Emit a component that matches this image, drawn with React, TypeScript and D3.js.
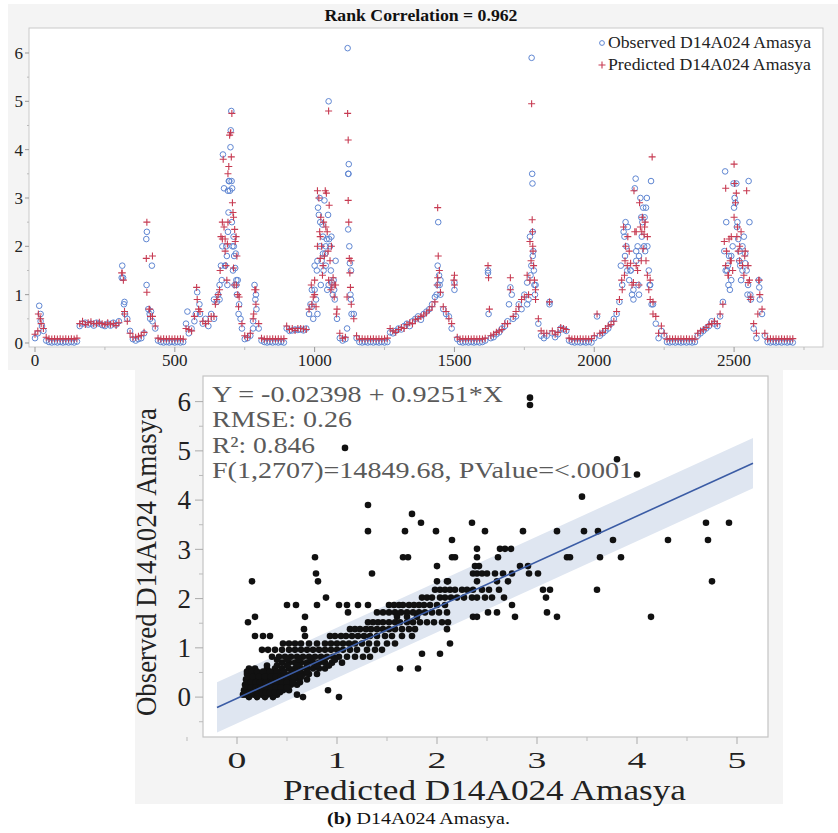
import React from "react";
import * as d3 from "d3";

// ---------------- Top chart data (index step = 10) ----------------
const STEP = 10;
const observed = [
  0.10, 0.20, 0.60, 0.25, 0.05, 0.02, 0.01, 0.02, 0.01, 0.02,
  0.01, 0.02, 0.01, 0.02, 0.01, 0.03, 0.35, 0.40, 0.42, 0.38,
  0.40, 0.36, 0.42, 0.40, 0.37, 0.35, 0.40, 0.36, 0.42, 0.38,
  0.45, 1.35, 0.85, 0.50, 0.25, 0.08, 0.05, 0.08, 0.10, 0.20,
  2.30, 0.60, 0.45, 0.30, 0.05, 0.02, 0.01, 0.02, 0.01, 0.02,
  0.01, 0.02, 0.01, 0.02, 0.40, 0.20, 0.30, 0.45, 1.05, 0.60,
  0.40, 0.50, 0.35, 0.60, 0.50, 0.85, 1.20, 2.00, 1.60, 3.15,
  4.40, 2.20, 1.30, 0.80, 0.30, 0.08, 0.10, 0.15, 0.45, 1.00,
  0.30, 0.05, 0.02, 0.01, 0.02, 0.01, 0.02, 0.01, 0.02, 0.01,
  0.30, 0.25, 0.26, 0.28, 0.27, 0.28, 0.26, 0.30, 0.60, 0.75,
  1.10, 1.70, 2.50, 1.85, 2.00, 1.20, 2.20, 1.10, 0.50, 0.10,
  0.05, 0.08, 3.50, 1.50, 0.60, 0.10, 0.02, 0.01, 0.02, 0.01,
  0.02, 0.01, 0.02, 0.01, 0.02, 0.01, 0.02, 0.22, 0.20, 0.25,
  0.30, 0.28, 0.35, 0.40, 0.35, 0.45, 0.50, 0.55, 0.48, 0.60,
  0.65, 0.70, 0.80, 0.95, 1.20, 1.00, 0.70, 0.60, 0.55, 0.30,
  1.10, 0.08, 0.02, 0.01, 0.02, 0.01, 0.02, 0.01, 0.02, 0.01,
  0.02, 0.05, 1.50, 0.10, 0.12, 0.18, 0.22, 0.30, 0.35, 0.45,
  1.15, 0.50, 0.55, 0.80, 0.70, 1.00, 1.25, 2.20, 1.80, 1.20,
  0.40, 0.15, 0.10, 0.15, 0.85, 0.20, 0.12, 0.18, 0.30, 0.28,
  0.25, 0.05, 0.02, 0.01, 0.02, 0.01, 0.02, 0.01, 0.02, 0.01,
  0.10, 0.55, 0.15, 0.20, 0.25, 0.30, 0.40, 0.50, 0.60, 0.85,
  1.20, 1.80, 2.40, 1.50, 1.10, 1.70, 1.00, 2.20, 2.60, 2.00,
  1.20, 0.80, 0.40, 0.10, 0.25, 0.15, 0.02, 0.01, 0.02, 0.01,
  0.02, 0.01, 0.02, 0.01, 0.02, 0.01, 0.02, 0.15, 0.20, 0.25,
  0.30, 0.35, 0.45, 0.40, 0.35, 0.55, 0.85, 1.50, 1.20, 1.80,
  2.80, 2.40, 1.90, 1.50, 1.85, 1.20, 0.90, 0.30, 0.10, 1.15,
  0.60, 0.15, 0.02, 0.01, 0.02, 0.01, 0.02, 0.01, 0.02, 0.01,
  0.02, 0.01,
];
const predicted = [
  0.18, 0.25, 0.50, 0.30, 0.12, 0.09, 0.08, 0.09, 0.08, 0.09,
  0.08, 0.09, 0.08, 0.09, 0.08, 0.10, 0.40, 0.45, 0.38, 0.42,
  0.44, 0.40, 0.40, 0.43, 0.40, 0.38, 0.42, 0.39, 0.40, 0.36,
  0.42, 1.45, 0.65, 0.45, 0.20, 0.12, 0.12, 0.14, 0.16, 0.22,
  2.50, 0.70, 0.55, 0.35, 0.10, 0.08, 0.09, 0.08, 0.09, 0.08,
  0.09, 0.08, 0.09, 0.08, 0.30, 0.28, 0.25, 0.55, 0.90, 0.65,
  0.45, 0.40, 0.45, 0.55, 0.55, 0.90, 1.10, 2.15, 1.90, 2.50,
  4.35, 2.60, 1.20, 0.95, 0.40, 0.15, 0.12, 0.20, 0.50, 1.10,
  0.40, 0.10, 0.08, 0.09, 0.08, 0.09, 0.08, 0.09, 0.08, 0.09,
  0.35, 0.28, 0.30, 0.26, 0.30, 0.30, 0.29, 0.28, 0.70, 0.80,
  1.00, 2.00, 2.20, 1.60, 2.40, 1.30, 2.00, 1.20, 0.70, 0.20,
  0.10, 0.12, 2.95, 1.70, 0.50, 0.15, 0.08, 0.09, 0.08, 0.09,
  0.08, 0.09, 0.08, 0.09, 0.08, 0.09, 0.10, 0.30, 0.25, 0.22,
  0.28, 0.32, 0.30, 0.38, 0.42, 0.40, 0.48, 0.50, 0.55, 0.58,
  0.62, 0.68, 0.75, 0.85, 1.35, 1.05, 0.75, 0.65, 0.50, 0.40,
  1.40, 0.12, 0.08, 0.09, 0.08, 0.09, 0.08, 0.09, 0.08, 0.09,
  0.08, 0.10, 1.60, 0.15, 0.18, 0.22, 0.25, 0.28, 0.40, 0.40,
  1.35, 0.55, 0.65, 0.75, 0.90, 0.95, 1.40, 2.10, 2.00, 1.10,
  0.50, 0.25, 0.20, 0.20, 0.85, 0.25, 0.18, 0.22, 0.32, 0.30,
  0.28, 0.10, 0.08, 0.09, 0.08, 0.09, 0.08, 0.09, 0.08, 0.09,
  0.15, 0.60, 0.20, 0.22, 0.30, 0.35, 0.38, 0.45, 0.65, 0.90,
  1.10, 1.70, 2.20, 1.65, 1.25, 1.60, 1.20, 2.30, 2.40, 2.20,
  1.30, 0.85, 0.55, 0.20, 0.35, 0.20, 0.08, 0.09, 0.08, 0.09,
  0.08, 0.09, 0.08, 0.09, 0.08, 0.09, 0.08, 0.20, 0.25, 0.28,
  0.32, 0.38, 0.40, 0.45, 0.40, 0.60, 0.80, 1.60, 1.40, 1.70,
  2.60, 2.20, 1.70, 1.60, 1.90, 1.25, 0.95, 0.40, 0.20, 1.30,
  0.70, 0.20, 0.08, 0.09, 0.08, 0.09, 0.08, 0.09, 0.08, 0.09,
  0.08, 0.09,
];
// additional readings inside the peaks: [index, value]
const observedExtra: [number, number][] = [
  [15, 0.77], [20, 0.45], [25, 0.35],
  [312, 1.6], [315, 1.35], [318, 0.8], [322, 0.6],
  [398, 2.15], [399, 1.2], [418, 1.6], [405, 0.7], [412, 0.5], [415, 0.65],
  [545, 0.65], [588, 0.8], [575, 0.6], [640, 0.9], [655, 1.0],
  [672, 3.9], [676, 3.2], [680, 1.6], [684, 2.0], [686, 1.8], [690, 2.3], [693, 3.35], [695, 3.35],
  [697, 3.15], [699, 4.05], [702, 4.8], [704, 2.5], [706, 2.0], [708, 1.5], [712, 1.8], [714, 1.2],
  [716, 1.55], [718, 1.85], [722, 1.0], [725, 1.3], [665, 1.6], [668, 1.3], [660, 0.9], [688, 1.2],
  [692, 2.7], [703, 3.35], [705, 3.2], [711, 2.0], [720, 1.2], [728, 0.6], [735, 0.5],
  [785, 1.2], [788, 0.9], [792, 0.7], [780, 0.3],
  [985, 0.8], [990, 1.1], [995, 0.5], [1005, 0.9], [1008, 1.5], [1012, 2.8], [1015, 2.65], [1018, 3.0],
  [1020, 2.0], [1022, 1.2], [1025, 1.7], [1028, 2.45], [1030, 2.2], [1032, 1.5], [1035, 2.95], [1038, 1.85],
  [1040, 1.6], [1043, 2.15], [1045, 1.1], [1048, 2.65], [1050, 5.0], [1052, 2.15], [1055, 2.0], [1058, 1.5],
  [1062, 1.25], [1065, 1.0], [1068, 1.3], [1072, 0.9], [1075, 1.7], [1000, 1.6], [1010, 0.6],
  [1118, 6.1], [1120, 2.35], [1122, 3.7], [1124, 2.0], [1126, 1.65], [1128, 1.0], [1130, 0.9], [1132, 0.6],
  [1116, 0.3], [1121, 3.5],
  [1440, 1.6], [1442, 2.5], [1445, 1.4], [1447, 1.2], [1436, 1.0], [1450, 1.3],
  [1500, 1.25], [1620, 1.45], [1622, 0.6], [1695, 0.8], [1705, 1.0],
  [1776, 5.9], [1778, 3.5], [1779, 3.3], [1780, 2.3], [1775, 1.6], [1782, 1.9], [1784, 1.5], [1786, 1.2],
  [1788, 1.0], [1772, 1.4], [1765, 0.9], [1760, 0.8], [1840, 0.8],
  [2095, 1.6], [2105, 2.3], [2108, 2.2], [2112, 2.5], [2115, 2.0], [2118, 1.5], [2125, 1.3], [2135, 1.0],
  [2145, 3.2], [2148, 3.4], [2150, 1.9], [2155, 2.0], [2158, 1.2], [2165, 3.0], [2168, 2.6], [2172, 2.5],
  [2175, 2.8], [2178, 2.0], [2182, 1.9], [2185, 2.8], [2188, 3.0], [2195, 1.5], [2198, 1.2], [2203, 3.35],
  [2205, 0.8], [2160, 1.8], [2140, 0.9], [2130, 1.5],
  [2468, 3.55], [2465, 1.9], [2472, 2.5], [2475, 1.5], [2478, 1.6], [2482, 1.8], [2485, 1.1], [2490, 1.3],
  [2495, 2.0], [2498, 3.3], [2502, 3.0], [2505, 2.9], [2508, 3.3], [2512, 2.5], [2515, 2.15], [2518, 1.7],
  [2522, 1.6], [2525, 1.3], [2530, 2.0], [2535, 2.2], [2540, 1.65], [2545, 1.5], [2552, 3.35], [2555, 2.5],
  [2548, 1.0], [2558, 1.0], [2588, 1.3], [2592, 0.9],
];
const predictedExtra: [number, number][] = [
  [12, 0.6], [18, 0.5], [22, 0.4],
  [312, 1.45], [316, 1.3], [320, 0.6],
  [398, 1.75], [400, 1.05], [420, 1.8], [408, 0.7], [413, 0.55],
  [578, 1.15], [585, 0.7], [645, 0.8], [655, 1.0],
  [670, 2.5], [673, 3.8], [676, 2.4], [680, 2.15], [683, 1.6], [686, 1.3], [690, 3.5], [693, 3.65],
  [696, 4.3], [699, 4.35], [702, 3.85], [704, 4.75], [706, 2.9], [708, 2.7], [710, 1.55], [712, 1.2],
  [714, 2.35], [716, 2.1], [719, 2.2], [722, 1.8], [725, 1.0], [728, 0.75], [665, 2.2], [662, 1.5], [688, 2.05],
  [786, 1.1], [790, 0.8], [782, 0.6],
  [988, 1.2], [995, 0.95], [1005, 0.75], [1010, 3.15], [1015, 3.0], [1018, 2.3], [1022, 2.6], [1025, 2.0],
  [1028, 1.4], [1032, 2.5], [1035, 1.8], [1038, 3.15], [1042, 3.1], [1045, 2.3], [1048, 1.9], [1050, 4.8],
  [1052, 2.85], [1055, 1.7], [1058, 1.1], [1062, 1.2], [1066, 1.35], [1070, 0.95], [1075, 1.2], [1078, 0.6],
  [1000, 1.3], [1020, 1.75],
  [1118, 4.75], [1120, 4.2], [1122, 2.5], [1124, 1.75], [1126, 1.45], [1128, 1.15], [1131, 0.8], [1116, 0.95],
  [1440, 2.8], [1442, 1.8], [1446, 1.5], [1438, 1.2],
  [1500, 1.2], [1498, 1.3], [1622, 1.35], [1625, 0.7], [1700, 1.1],
  [1776, 4.95], [1778, 2.55], [1779, 2.3], [1781, 1.9], [1774, 1.7], [1783, 1.6], [1786, 1.3], [1770, 1.3],
  [1790, 0.9], [1765, 1.0], [1840, 0.85],
  [2098, 1.3], [2105, 2.4], [2108, 1.4], [2112, 2.0], [2118, 1.6], [2125, 1.9], [2135, 1.2], [2142, 3.15],
  [2145, 2.3], [2150, 2.3], [2155, 1.5], [2162, 2.9], [2165, 2.4], [2168, 1.7], [2172, 2.6], [2175, 1.95],
  [2178, 2.25], [2182, 2.5], [2185, 1.7], [2190, 1.4], [2195, 1.1], [2207, 3.85], [2200, 0.9], [2210, 0.6],
  [2470, 3.2], [2465, 2.1], [2473, 1.9], [2478, 1.4], [2482, 2.15], [2486, 1.7], [2490, 2.2], [2495, 1.5],
  [2500, 3.7], [2502, 3.3], [2505, 2.9], [2508, 3.1], [2512, 2.4], [2515, 1.9], [2520, 2.0], [2525, 2.3],
  [2530, 1.6], [2538, 1.8], [2545, 3.15], [2550, 1.6], [2555, 1.3], [2558, 0.9], [2535, 1.4],
  [2588, 1.3], [2592, 1.0], [2585, 0.6],
];
const topXTicks = [0, 500, 1000, 1500, 2000, 2500];
const topYTicks = [0, 1, 2, 3, 4, 5, 6];
const topTitle = "Rank Correlation = 0.962";
const legendLabels = ["Observed D14A024 Amasya", "Predicted D14A024 Amasya"];

// ---------------- Scatter data: observed level -> predicted values ----------------
const scatterObserved = [
  6.08, 5.93, 5.06, 4.83, 4.52, 4.07, 3.9, 3.72, 3.54, 3.37, 3.19, 3.01, 2.84, 2.66, 2.51, 2.35, 2.18, 2.02,
  1.87, 1.72, 1.63, 1.52, 1.38, 1.24, 1.09, 0.96, 0.88, 0.82, 0.7, 0.58, 0.47, 0.36, 0.25, 0.14, 0.05, 0.0,
  0.76, 0.64, 0.52, 0.41, 0.3, 0.2, 0.1,
];
const scatterPredicted = [
  [2.93], [2.93], [1.08], [3.8], [4.0], [3.45], [1.31], [1.75],
  [1.84, 2.35, 4.69, 4.92],
  [1.31, 1.68, 1.99, 2.48, 2.86, 3.2, 3.47, 3.61],
  [2.15, 3.76, 4.31, 4.71],
  [2.4, 2.63, 2.68, 2.74],
  [0.78, 1.66, 1.71, 2.15, 2.18, 2.4, 2.61, 3.3, 3.33, 3.63, 3.84],
  [2.0, 2.38, 2.42, 2.83, 2.91],
  [0.79, 1.35, 2.36, 2.4, 2.45, 2.5, 2.58, 2.66, 2.75, 2.92, 3.01],
  [0.15, 0.81, 2.0, 2.1, 2.11, 2.4, 2.6, 2.71, 4.75],
  [1.98, 2.03, 2.08, 2.13, 2.18, 2.25, 2.3, 2.36, 2.45, 2.52, 2.62, 3.06, 3.13, 3.6],
  [0.89, 1.85, 1.9, 1.95, 2.03, 2.08, 2.14, 2.2, 2.27, 2.35, 2.4, 2.48, 2.55, 2.67, 3.09],
  [0.5, 0.59, 0.8, 1.02, 1.1, 1.21, 1.31, 1.52, 1.57, 1.62, 1.66, 1.72, 1.77, 1.82, 1.87, 1.93, 2.0, 2.08, 2.75],
  [1.11, 1.4, 1.46, 1.52, 1.58, 1.64, 1.7, 1.76, 1.82, 1.88, 1.95, 2.02, 2.1, 2.51, 2.6, 3.1],
  [0.18, 0.68, 1.6, 1.7, 1.8, 2.36, 2.4, 2.78, 3.2, 4.14],
  [0.11, 1.31, 1.36, 1.41, 1.46, 1.52, 1.58, 1.63, 1.7, 1.76, 1.83, 1.9, 1.97, 2.05, 2.11],
  [0.67, 1.13, 1.18, 1.23, 1.29, 1.34, 1.4, 1.46, 1.52, 1.58, 1.65, 1.72, 1.78, 2.1],
  [0.18, 0.26, 0.33, 0.68, 0.93, 0.98, 1.04, 1.09, 1.15, 1.21, 1.27, 1.33, 1.4, 1.48, 1.55, 1.65, 1.75],
  [0.46, 0.52, 0.58, 0.64, 0.72, 0.8, 0.88, 0.94, 1.0, 1.06, 1.12, 1.18, 1.25, 1.32, 1.4, 1.5, 1.58, 2.13],
  [0.25, 0.31, 0.38, 0.45, 0.52, 0.58, 0.64, 0.7, 0.76, 0.82, 0.88, 0.94, 1.0, 1.06, 1.13, 1.2, 1.3, 1.38, 1.45],
  [1.85, 2.03],
  [0.35, 0.42, 0.48, 0.54, 0.6, 0.66, 0.72, 0.78, 0.84, 0.9, 0.96, 1.02, 1.1, 1.18, 1.26, 1.33],
  [0.45, 0.52, 0.58, 0.64, 0.7, 0.76, 0.82, 0.88, 0.95, 1.05],
  [0.12, 0.18, 0.3, 0.38, 0.45, 0.52, 0.58, 0.64, 0.7, 0.76, 0.82, 0.88, 1.63, 1.81],
  [0.1, 0.14, 0.18, 0.24, 0.3, 0.36, 0.42, 0.48, 0.54, 0.6, 0.66, 0.72, 0.8],
  [0.09, 0.13, 0.17, 0.21, 0.26, 0.31, 0.36, 0.41, 0.46, 0.51, 0.56, 0.62, 0.7],
  [0.08, 0.12, 0.16, 0.2, 0.24, 0.28, 0.33, 0.38, 0.43, 0.48, 0.54, 0.6],
  [0.07, 0.1, 0.14, 0.18, 0.22, 0.26, 0.3, 0.35, 0.4, 0.46, 0.52, 0.91],
  [0.06, 0.09, 0.13, 0.17, 0.21, 0.25, 0.3, 0.35, 0.4, 0.6],
  [0.12, 0.2, 0.28, 0.36, 0.66, 1.02],
  [0.4, 0.5, 0.62, 0.74, 0.86, 0.98],
  [0.3, 0.4, 0.5, 0.6, 0.7, 0.8, 0.92],
  [0.1, 0.15, 0.2, 0.26, 0.33, 0.4, 0.47, 0.55, 0.62, 0.7],
  [0.11, 0.16, 0.22, 0.28, 0.34, 0.39, 0.44, 0.5, 0.57, 0.64],
  [0.1, 0.14, 0.19, 0.23, 0.29, 0.35, 0.4, 0.45, 0.5, 0.56, 0.63],
  [0.09, 0.14, 0.19, 0.24, 0.29, 0.34, 0.39, 0.44, 0.5],
  [0.08, 0.12, 0.16, 0.2, 0.25, 0.29, 0.33, 0.38, 0.43],
];
const fitIntercept = -0.02398;
const fitSlope = 0.9251;
const fitBandHalfWidth = 0.51;
const fitRange = [-0.2, 5.16];
const statLines = [
  "Y = -0.02398 + 0.9251*X",
  "RMSE: 0.26",
  "R\u00b2: 0.846",
  "F(1,2707)=14849.68, PValue=<.0001",
];
const statLengths = [291, 140, 103, 421];
const scatterXTicks = [0, 1, 2, 3, 4, 5];
const scatterYTicks = [0, 1, 2, 3, 4, 5, 6];
const scatterXTitle = "Predicted D14A024 Amasya";
const scatterYTitle = "Observed D14A024 Amasya";

const SERIF = "'Liberation Serif', 'Times New Roman', Times, serif";
const BLUE = "#5f86d2";
const RED = "#c73b52";

export default function App() {
  // ---- top chart scales ----
  const tx = d3.scaleLinear().domain([-21.5, 2818]).range([29, 823]);
  const ty = d3.scaleLinear().domain([-0.083, 6.517]).range([347, 28]);

  const obsPts: [number, number][] = observed.map((v, i) => [i * STEP, v] as [number, number]).concat(observedExtra);
  const predPts: [number, number][] = predicted.map((v, i) => [i * STEP, v] as [number, number]).concat(predictedExtra);

  const plusPath = predPts
    .map(([i, v]) => {
      const x = tx(i);
      const y = ty(v);
      return `M${x - 3.5},${y}H${x + 3.5}M${x},${y - 3.5}V${y + 3.5}`;
    })
    .join("");

  const topMinorX = d3.range(250, 2800, 500);
  const topMinorY = d3.range(0.5, 6.5, 1);

  // ---- scatter scales ----
  const sx = d3.scaleLinear().domain([-0.34, 5.31]).range([203, 768]);
  const sy = d3.scaleLinear().domain([-0.81, 6.52]).range([737, 376]);
  const fit = (x: number) => fitIntercept + fitSlope * x;
  const [f0, f1] = fitRange;
  const bandArea = d3
    .area<number>()
    .x((d) => sx(d))
    .y0((d) => sy(fit(d) - fitBandHalfWidth))
    .y1((d) => sy(fit(d) + fitBandHalfWidth));
  const fitLine = d3
    .line<number>()
    .x((d) => sx(d))
    .y((d) => sy(fit(d)));

  const scatterPts: [number, number][] = [];
  scatterObserved.forEach((o, k) => {
    scatterPredicted[k].forEach((p) => scatterPts.push([p, o]));
  });

  const sMinorX = d3.range(-0.5, 5.5, 1);
  const sMinorY = d3.range(-0.5, 6.5, 1);

  return (
    <svg
      width={838}
      height={833}
      viewBox="0 0 838 833"
      style={{ position: "absolute", left: 0, top: 0, background: "#ffffff" }}
      fontFamily={SERIF}
    >
      {/* ================= TOP CHART ================= */}
      <rect x={8} y={4} width={830} height={366} fill="#f4f4f4" />
      <text x={421} y={21} textAnchor="middle" fontWeight="bold" fontSize={16.5} fill="#111" textLength={193} lengthAdjust="spacingAndGlyphs">
        {topTitle}
      </text>
      <rect x={29} y={28} width={794} height={319} fill="#ffffff" stroke="#c9c9c9" strokeWidth={1} />

      {/* y axis ticks */}
      {topYTicks.map((t) => (
        <g key={"ty" + t}>
          <line x1={25} x2={29} y1={ty(t)} y2={ty(t)} stroke="#999" />
          <text x={23} y={ty(t)} dy="0.35em" textAnchor="end" fontSize={17} fill="#222">
            {t}
          </text>
        </g>
      ))}
      {topMinorY.map((t) => (
        <line key={"tmy" + t} x1={27} x2={29} y1={ty(t)} y2={ty(t)} stroke="#bbb" />
      ))}
      {/* x axis ticks */}
      {topXTicks.map((t) => (
        <g key={"tx" + t}>
          <line x1={tx(t)} x2={tx(t)} y1={347} y2={352} stroke="#999" />
          <text x={tx(t)} y={366} textAnchor="middle" fontSize={17} fill="#222">
            {t}
          </text>
        </g>
      ))}
      {topMinorX.map((t) => (
        <line key={"tmx" + t} x1={tx(t)} x2={tx(t)} y1={347} y2={350} stroke="#bbb" />
      ))}

      {/* observed circles */}
      <g fill="none" stroke={BLUE} strokeWidth={1}>
        {obsPts.map(([i, v], k) => (
          <circle key={"o" + k} cx={tx(i)} cy={ty(v)} r={2.8} />
        ))}
      </g>
      {/* predicted plus */}
      <path d={plusPath} stroke={RED} strokeWidth={1.1} fill="none" />

      {/* legend */}
      <circle cx={602} cy={43} r={2.4} fill="none" stroke={BLUE} strokeWidth={1} />
      <text x={608} y={48} fontSize={17} fill="#222" textLength={203} lengthAdjust="spacingAndGlyphs">
        {legendLabels[0]}
      </text>
      <path d="M598.5,65H605.5M602,61.5V68.5" stroke={RED} strokeWidth={1.1} />
      <text x={608} y={70} fontSize={17} fill="#222" textLength={203} lengthAdjust="spacingAndGlyphs">
        {legendLabels[1]}
      </text>

      {/* ================= SCATTER ================= */}
      <rect x={135} y={370} width={648} height={434} fill="#f4f4f4" />
      <rect x={203} y={376} width={565} height={361} fill="#ffffff" stroke="#c4c4c4" strokeWidth={1.2} />

      <path d={bandArea([f0, f1]) || ""} fill="#dfe6f1" />

      {/* stats text */}
      {statLines.map((s, k) => (
        <text
          key={"st" + k}
          x={212}
          y={402 + k * 25.3}
          fontSize={23}
          fill="#5a5a5a"
          textLength={statLengths[k]}
          lengthAdjust="spacingAndGlyphs"
        >
          {s}
        </text>
      ))}

      <g fill="#111">
        {scatterPts.map(([p, o], k) => (
          <circle key={"s" + k} cx={sx(p)} cy={sy(o)} r={3.3} />
        ))}
      </g>
      <path d={fitLine([f0, f1]) || ""} stroke="#3b5ca5" strokeWidth={1.6} fill="none" />

      {/* y ticks */}
      {scatterYTicks.map((t) => (
        <g key={"sy" + t}>
          <line x1={195} x2={203} y1={sy(t)} y2={sy(t)} stroke="#aaa" />
          <text x={191} y={sy(t)} dy="0.34em" textAnchor="end" fontSize={27} fill="#222">
            {t}
          </text>
        </g>
      ))}
      {sMinorY.map((t) => (
        <line key={"smy" + t} x1={199} x2={203} y1={sy(t)} y2={sy(t)} stroke="#bbb" />
      ))}
      {/* x ticks */}
      {scatterXTicks.map((t) => (
        <g key={"sx" + t}>
          <line x1={sx(t)} x2={sx(t)} y1={737} y2={744} stroke="#aaa" />
          <g transform={`translate(${sx(t)},768) scale(1.45,0.88)`}>
            <text x={0} y={0} textAnchor="middle" fontSize={26} fill="#222">
              {t}
            </text>
          </g>
        </g>
      ))}
      {sMinorX.map((t) => (
        <line key={"smx" + t} x1={sx(t)} x2={sx(t)} y1={737} y2={741} stroke="#bbb" />
      ))}

      {/* axis titles */}
      <text
        transform="translate(156,562) rotate(-90)"
        textAnchor="middle"
        fontSize={30}
        fill="#222"
        textLength={308}
        lengthAdjust="spacingAndGlyphs"
      >
        {scatterYTitle}
      </text>
      <text x={283} y={800} fontSize={28.5} fill="#222" textLength={403} lengthAdjust="spacingAndGlyphs">
        {scatterXTitle}
      </text>

      {/* caption */}
      <text x={327} y={824} fontSize={17.5} fill="#111" textLength={183} lengthAdjust="spacingAndGlyphs">
        <tspan fontWeight="bold">(b)</tspan>
        <tspan> D14A024 Amasya.</tspan>
      </text>
    </svg>
  );
}
